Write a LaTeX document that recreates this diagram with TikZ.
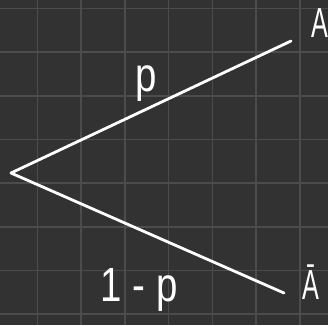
\documentclass[tikz,border=0pt]{standalone}
\usepackage{fontspec}
\setmainfont{Liberation Sans}
\definecolor{bgc}{HTML}{323232}
\definecolor{gridc}{HTML}{4C4C4C}
\begin{document}
\begin{tikzpicture}[x=1pt,y=-1pt,
  edge/.style={draw=white,line width=2.8pt,line cap=round},
  hand/.style={text=white,inner sep=0pt,font=\fontsize{42}{42}\selectfont,xscale=0.6,transform shape},
  lab/.style={text=white,inner sep=0pt,font=\fontsize{48}{48}\selectfont,xscale=0.8,transform shape}]
\fill[bgc] (0,0) rectangle (328,325);
\useasboundingbox (0,0) rectangle (328,325);
\foreach \i in {0,...,6} {
  \draw[gridc,line width=1.6pt] ({37.5+43.7*\i},0) -- ({37.5+43.7*\i},325);
}
\foreach \j in {0,...,7} {
  \draw[gridc,line width=1.6pt] (0,{8.3+43.7*\j}) -- (328,{8.3+43.7*\j});
}
\coordinate (root) at (11,173);
\coordinate (top) at (291,41);
\coordinate (bot) at (284,293);
\draw[edge] (root) -- (top);
\draw[edge] (root) -- (bot);
\node[hand] (A) at (320,23) {A};
\node[hand] (Ab) at (311,282) {Ā};
\node[lab] (p) at (146,84) {p};
\node[lab] (q) at (139,290) {1 - p};
\end{tikzpicture}
\end{document}
